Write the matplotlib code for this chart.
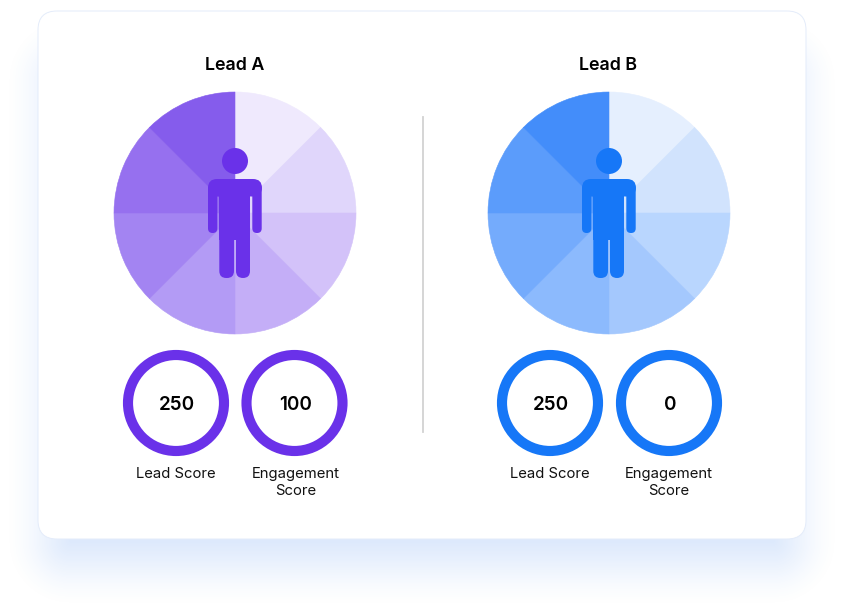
import numpy as np
import matplotlib
matplotlib.use("Agg")
import matplotlib.pyplot as plt
from matplotlib.patches import Circle, FancyBboxPatch

plt.rcParams['font.family'] = ['Inter', 'DejaVu Sans']

W, H = 845, 605

leads = ["Lead A", "Lead B"]
lead_scores = [250, 250]
engagement_scores = [100, 0]
score_labels = ["Lead Score", "Engagement\nScore"]
slices = [1, 1, 1, 1, 1, 1, 1, 1]

purple_shades = ["#efe9fd", "#e0d6fb", "#d3c2f9", "#c4aef7",
                 "#b39bf5", "#a384f2", "#9670ef", "#855cec"]
blue_shades = ["#e5effe", "#d1e3fd", "#b9d6fe", "#a4c8fd",
               "#8cbafd", "#74abfc", "#5b9cfb", "#438dfa"]
main_colors = ["#6a31e9", "#1677f7"]

pie_x = [235, 609]
ring_x = [(176, 294.5), (550, 669)]
label_x = [(175.5, 296), (550, 669)]


def rrect(ax, x0, y0, x1, y1, r, **kw):
    # coordinates are picture pixels, y counted from the top
    p = FancyBboxPatch((x0, H - y1), x1 - x0, y1 - y0,
                       boxstyle="round,pad=0,rounding_size=%g" % r, **kw)
    ax.add_patch(p)
    return p


def person(ax, cx, color):
    kw = dict(fc=color, ec="none", lw=0, zorder=5)
    ax.add_patch(Circle((cx, H - 161), 13, **kw))
    rrect(ax, cx - 27, 179, cx + 27, 196.5, 9, **kw)
    rrect(ax, cx - 27, 185, cx - 17.7, 233, 4.6, **kw)
    rrect(ax, cx + 17.3, 185, cx + 26.7, 233, 4.6, **kw)
    ax.fill_between([cx - 15.7, cx + 15], H - 240, H - 185, color=color, lw=0, zorder=5)
    rrect(ax, cx - 15.7, 222, cx - 1, 278, 7, **kw)
    rrect(ax, cx + 1, 222, cx + 15, 278, 7, **kw)
    ax.fill_between([cx - 15.7, cx - 1], H - 240, H - 228, color=color, lw=0, zorder=5)
    ax.fill_between([cx + 1, cx + 15], H - 240, H - 228, color=color, lw=0, zorder=5)


def shadow_image():
    # soft shadow as a blurred rounded box, stronger under the card
    x0, x1, y0, y1, r = 50, 794, 60, 562, 20
    xx, yy = np.meshgrid(np.arange(W) + 0.5, np.arange(H) + 0.5)
    cx, cy = (x0 + x1) / 2, (y0 + y1) / 2
    qx = np.abs(xx - cx) - (x1 - x0) / 2 + r
    qy = np.abs(yy - cy) - (y1 - y0) / 2 + r
    d = np.hypot(np.maximum(qx, 0), np.maximum(qy, 0)) + np.minimum(np.maximum(qx, qy), 0) - r
    t = np.clip((d + 42) / 90, 0, 1)
    a = (1 - t * t * (3 - 2 * t)) * 0.2
    rgba = np.zeros((H, W, 4))
    rgba[..., 0], rgba[..., 1], rgba[..., 2] = 59 / 255, 130 / 255, 240 / 255
    rgba[..., 3] = a
    return rgba


fig = plt.figure(figsize=(W / 100, H / 100), dpi=100)
ax = fig.add_axes([0, 0, 1, 1])

ax.imshow(shadow_image(), extent=(0, W, 0, H), origin="upper", zorder=1, interpolation="nearest")

rrect(ax, 38, 11, 806, 539, 19, fc="white", ec="#e4ecfa", lw=0.7, zorder=2)
ax.plot([423, 423], [H - 117, H - 432], color="#d2d2d2", lw=1.3, zorder=3)

for i, lead in enumerate(leads):
    shades = purple_shades if i == 0 else blue_shades
    wedges, _ = ax.pie(slices, colors=shades, center=(pie_x[i], H - 213), radius=121,
                       startangle=90, counterclock=False, wedgeprops=dict(lw=0))
    for w, c in zip(wedges, shades):
        w.set_zorder(4)
        w.set_edgecolor(c)
        w.set_linewidth(0.4)
    person(ax, pie_x[i], main_colors[i])
    ax.text(pie_x[i] - 0.5, H - 65.5, lead, fontsize=12.85, fontweight="semibold",
            color="#000000", ha="center", va="center", zorder=6)

    values = [lead_scores[i], engagement_scores[i]]
    for j, val in enumerate(values):
        ax.add_patch(Circle((ring_x[i][j], H - 403), 48, fill=False,
                            ec=main_colors[i], lw=7.3, zorder=4))
        ax.text(ring_x[i][j] + 1, H - 404.5, str(val), fontsize=13.6, fontweight="semibold",
                color="#000000", ha="center", va="center", zorder=6)
        ax.text(label_x[i][j], H - (473.5 if j == 0 else 482.5), score_labels[j], fontsize=10.7,
                color="#111111", ha="center", va="center", linespacing=1.26, zorder=6)

ax.set_xlim(0, W)
ax.set_ylim(0, H)
ax.set_aspect("equal")
ax.axis("off")

fig.savefig("out.png", dpi=100)
